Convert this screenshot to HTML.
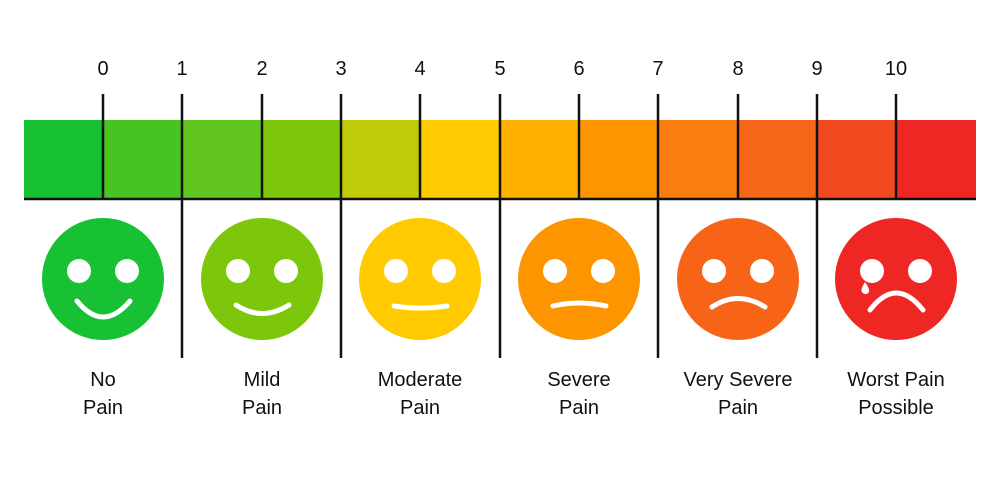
<!DOCTYPE html>
<html><head><style>body{margin:0;background:#fff}</style></head><body>
<svg width="1000" height="493" xmlns="http://www.w3.org/2000/svg" font-family="Liberation Sans, Arial, sans-serif">
<rect width="1000" height="493" fill="#fff"/>
<g>
<rect x="24" y="120" width="80" height="79" fill="#18c034"/>
<rect x="103" y="120" width="80" height="79" fill="#48c422"/>
<rect x="182" y="120" width="81" height="79" fill="#62c520"/>
<rect x="262" y="120" width="80" height="79" fill="#7ec70c"/>
<rect x="341" y="120" width="80" height="79" fill="#bfcb08"/>
<rect x="420" y="120" width="81" height="79" fill="#ffca00"/>
<rect x="500" y="120" width="80" height="79" fill="#ffb000"/>
<rect x="579" y="120" width="80" height="79" fill="#fd9500"/>
<rect x="658" y="120" width="81" height="79" fill="#fb7c10"/>
<rect x="738" y="120" width="80" height="79" fill="#f76518"/>
<rect x="817" y="120" width="80" height="79" fill="#f24a20"/>
<rect x="896" y="120" width="80" height="79" fill="#ee2724"/>
</g>
<line x1="24" y1="199" x2="976" y2="199" stroke="#111" stroke-width="2.5"/>
<g stroke="#111" stroke-width="2.5">
<line x1="103" y1="94" x2="103" y2="199"/>
<line x1="182" y1="94" x2="182" y2="358"/>
<line x1="262" y1="94" x2="262" y2="199"/>
<line x1="341" y1="94" x2="341" y2="358"/>
<line x1="420" y1="94" x2="420" y2="199"/>
<line x1="500" y1="94" x2="500" y2="358"/>
<line x1="579" y1="94" x2="579" y2="199"/>
<line x1="658" y1="94" x2="658" y2="358"/>
<line x1="738" y1="94" x2="738" y2="199"/>
<line x1="817" y1="94" x2="817" y2="358"/>
<line x1="896" y1="94" x2="896" y2="199"/>
</g>
<g font-size="20" text-anchor="middle" fill="#111">
<text x="103" y="75">0</text><text x="182" y="75">1</text><text x="262" y="75">2</text><text x="341" y="75">3</text><text x="420" y="75">4</text><text x="500" y="75">5</text><text x="579" y="75">6</text><text x="658" y="75">7</text><text x="738" y="75">8</text><text x="817" y="75">9</text><text x="896" y="75">10</text>
</g>
<g fill="#fff">
<circle cx="103" cy="279" r="61" fill="#18c034"/><circle cx="79" cy="271" r="12"/><circle cx="127" cy="271" r="12"/>
<circle cx="262" cy="279" r="61" fill="#7cc60c"/><circle cx="238" cy="271" r="12"/><circle cx="286" cy="271" r="12"/>
<circle cx="420" cy="279" r="61" fill="#ffca00"/><circle cx="396" cy="271" r="12"/><circle cx="444" cy="271" r="12"/>
<circle cx="579" cy="279" r="61" fill="#fd9500"/><circle cx="555" cy="271" r="12"/><circle cx="603" cy="271" r="12"/>
<circle cx="738" cy="279" r="61" fill="#f76418"/><circle cx="714" cy="271" r="12"/><circle cx="762" cy="271" r="12"/>
<circle cx="896" cy="279" r="61" fill="#ee2724"/><circle cx="872" cy="271" r="12"/><circle cx="920" cy="271" r="12"/>
<path d="M865 282 Q860 290 862 292 A4 4 0 0 0 869 292 Q870 289 865 282Z"/>
</g>
<g fill="none" stroke="#fff" stroke-width="5" stroke-linecap="round">
<path d="M77 301 Q103 333 130 301"/>
<path d="M236 305 Q262 322 289 305"/>
<path d="M394 306 Q420 310 447 306"/>
<path d="M553 306 Q579 300 606 306"/>
<path d="M712 307 Q738 290 765 307"/>
<path d="M870 310 Q896 276 923 310"/>
</g>
<g font-size="20" text-anchor="middle" fill="#111">
<text x="103" y="386">No</text><text x="103" y="414">Pain</text>
<text x="262" y="386">Mild</text><text x="262" y="414">Pain</text>
<text x="420" y="386">Moderate</text><text x="420" y="414">Pain</text>
<text x="579" y="386">Severe</text><text x="579" y="414">Pain</text>
<text x="738" y="386">Very Severe</text><text x="738" y="414">Pain</text>
<text x="896" y="386">Worst Pain</text><text x="896" y="414">Possible</text>
</g>
</svg>
</body></html>
